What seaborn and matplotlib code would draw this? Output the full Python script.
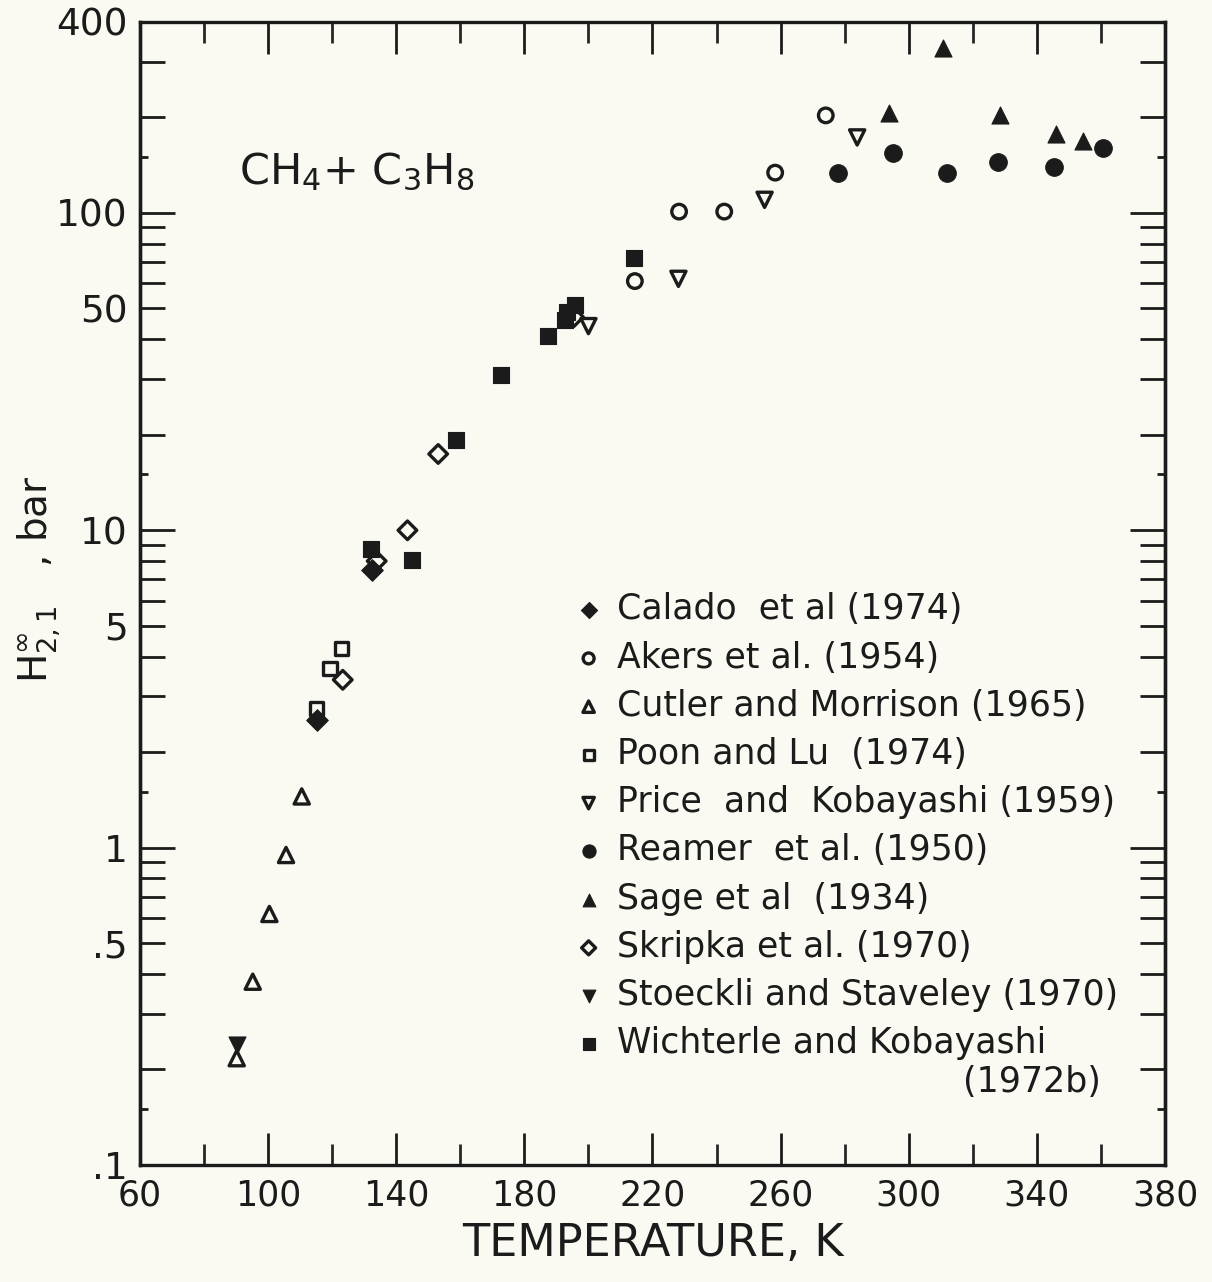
import numpy as np
import pandas as pd
import matplotlib
matplotlib.use("Agg")
import matplotlib.pyplot as plt
from matplotlib.ticker import FixedLocator, FuncFormatter, NullLocator
import seaborn as sns

# Henry's constant of methane in propane, literature values (T in K, H in bar)
calado_T = [115.4, 132.3]
calado_H = [2.52, 7.5]

akers_T = [214.5, 228.3, 242.4, 258.3, 274.1]
akers_H = [61.0, 101.0, 101.0, 134.0, 203.0]

cutler_T = [90.2, 95.2, 100.4, 105.6, 110.5]
cutler_H = [0.217, 0.378, 0.618, 0.948, 1.45]

poon_T = [115.2, 119.3, 122.8]
poon_H = [2.75, 3.66, 4.25]

price_T = [200.0, 228.1, 255.0, 283.9]
price_H = [44.0, 62.0, 110.0, 173.0]

reamer_T = [277.9, 295.2, 312.0, 327.8, 345.5, 360.5]
reamer_H = [134.0, 154.0, 134.0, 145.0, 140.0, 160.0]

sage_T = [293.8, 310.7, 328.4, 346.0, 354.4]
sage_H = [207.0, 330.0, 203.0, 177.0, 168.0]

skripka_T = [123.3, 133.9, 143.5, 153.1, 195.5]
skripka_H = [3.38, 8.0, 10.0, 17.4, 47.0]

stoeckli_T = [90.2]
stoeckli_H = [0.239]

wichterle_T = [132.0, 145.0, 158.7, 172.7, 187.3, 192.7, 193.2, 195.8, 214.3]
wichterle_H = [8.71, 8.06, 19.3, 30.9, 41.0, 46.0, 48.9, 51.3, 72.0]

x_ticks = [60, 100, 140, 180, 220, 260, 300, 340, 380]
x_minor = [80, 120, 160, 200, 240, 280, 320, 360]
y_major = [0.1, 1, 10, 100]
y_labels = {0.1: ".1", 0.5: ".5", 1: "1", 5: "5", 10: "10", 50: "50", 100: "100", 400: "400"}

sns.set_theme(style="ticks")
plt.rcParams["font.family"] = ["DejaVu Sans"]
plt.rcParams["mathtext.fontset"] = "dejavusans"

INK = "#1b1b1b"
PAPER = "#fafaf3"

fig = plt.figure(figsize=(12.12, 12.82), dpi=100, facecolor=PAPER)
ax = fig.add_axes([0.1155, 0.0913, 0.8457, 0.8916])
ax.set_facecolor(PAPER)

series = [
    ("Calado  et al (1974)", calado_T, calado_H, "D", True, 120),
    ("Akers et al. (1954)", akers_T, akers_H, "o", False, 110),
    ("Cutler and Morrison (1965)", cutler_T, cutler_H, "^", False, 120),
    ("Poon and Lu  (1974)", poon_T, poon_H, "s", False, 90),
    ("Price  and  Kobayashi (1959)", price_T, price_H, "v", False, 120),
    ("Reamer  et al. (1950)", reamer_T, reamer_H, "o", True, 160),
    ("Sage et al  (1934)", sage_T, sage_H, "^", True, 150),
    ("Skripka et al. (1970)", skripka_T, skripka_H, "D", False, 90),
    ("Stoeckli and Staveley (1970)", stoeckli_T, stoeckli_H, "v", True, 150),
    ("Wichterle and Kobayashi", wichterle_T, wichterle_H, "s", True, 120),
]

for label, T, H, mk, filled, size in series:
    df = pd.DataFrame({"T": T, "H": H})
    if filled:
        sns.scatterplot(data=df, x="T", y="H", ax=ax, marker=mk, s=size,
                        color=INK, edgecolor=INK, linewidth=0.8, label=label,
                        legend=False)
    else:
        sns.scatterplot(data=df, x="T", y="H", ax=ax, marker=mk, s=size,
                        facecolors="none", edgecolors=INK, linewidth=2.4,
                        label=label, legend=False)

ax.set_yscale("log")
ax.set_xlim(60, 380)
ax.set_ylim(0.1, 400)

# x axis ticks
ax.xaxis.set_major_locator(FixedLocator(x_ticks))
ax.xaxis.set_minor_locator(FixedLocator(x_minor))
ax.set_xticklabels([str(v) for v in x_ticks])
ax.tick_params(axis="x", which="major", direction="in", length=23, width=2,
               top=True, bottom=True, labelsize=25, pad=10, colors=INK)
ax.tick_params(axis="x", which="minor", direction="in", length=15, width=2,
               top=True, bottom=True)

# y axis ticks: long decades, medium 2..9 multiples
minor_vals = [m * d for d in (0.1, 1, 10, 100) for m in range(2, 10) if m * d <= 400]
ax.yaxis.set_major_locator(FixedLocator(y_major))
ax.yaxis.set_minor_locator(FixedLocator(minor_vals))

def ylab(v, pos):
    for k, s in y_labels.items():
        if abs(v - k) / k < 1e-6:
            return s
    return ""

ax.yaxis.set_major_formatter(FuncFormatter(ylab))
ax.yaxis.set_minor_formatter(FuncFormatter(ylab))
ax.tick_params(axis="y", which="major", direction="in", length=25, width=2,
               left=True, right=True, labelsize=27, pad=9, colors=INK)
ax.tick_params(axis="y", which="minor", direction="in", length=18, width=2,
               left=True, right=True, labelsize=27, pad=9, colors=INK)

# short ticks at 1.5 x decade on both sides
for side in ("left", "right"):
    sec = ax.secondary_yaxis(side)
    sec.yaxis.set_major_locator(FixedLocator([0.15, 1.5, 15, 150]))
    sec.yaxis.set_minor_locator(NullLocator())
    sec.tick_params(axis="y", which="major", direction="in", length=6, width=2,
                    labelleft=False, labelright=False, colors=INK)
    sec.spines[side].set_linewidth(2.4)
    sec.spines[side].set_color(INK)

for sp in ax.spines.values():
    sp.set_linewidth(2.4)
    sp.set_color(INK)
    sp.set_visible(True)

ax.set_xlabel("TEMPERATURE, K", fontsize=32, color=INK)
ax.xaxis.set_label_coords(0.5, -0.05)
ax.set_ylabel(r"$\mathregular{H}^{\infty}_{2,1}$   , bar", fontsize=28,
              color=INK)
ax.yaxis.set_label_coords(-0.076, 0.512)

ax.text(0.097, 0.869, r"CH$_4$+ C$_3$H$_8$", transform=ax.transAxes,
        fontsize=31, color=INK, ha="left", va="center")

leg = ax.legend(loc="upper left", bbox_to_anchor=(0.425, 0.501), frameon=False,
                fontsize=25, markerscale=0.75, handlelength=0.75,
                handletextpad=0.45, labelspacing=0.41, borderpad=0,
                borderaxespad=0)
for t in leg.get_texts():
    t.set_color(INK)

ax.text(0.937, 0.0726, "(1972b)", transform=ax.transAxes, fontsize=25,
        color=INK, ha="right", va="center")

fig.savefig("out.png", dpi=100, facecolor=PAPER)
